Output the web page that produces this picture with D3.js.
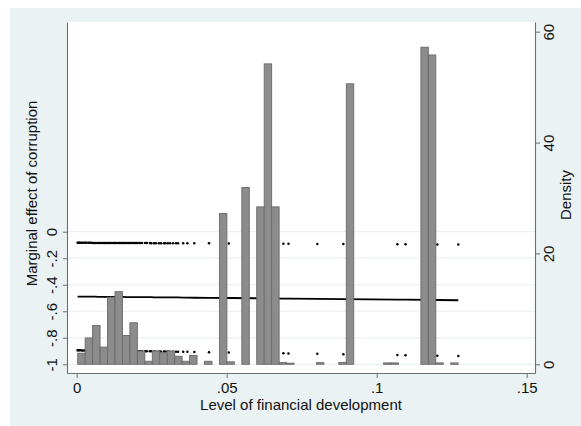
<!DOCTYPE html>
<html><head><meta charset="utf-8">
<script src="https://cdn.jsdelivr.net/npm/d3@7"></script>
<style>
html,body{margin:0;padding:0;background:#fff;}
svg{display:block;font-family:"Liberation Sans",Arial,sans-serif;}
</style></head>
<body>
<svg id="c" width="581" height="426"></svg>
<script>
// ---- data ----
const finDev = [.0003,.0006,.0009,.0013,.0018,.0023,.0028,.0031,.0038,.0043,.0048,.0054,.0059,.0064,.0071,.0076,.0081,.0088,.0093,.0098,
  .0104,.0109,.0114,.0121,.0126,.0131,.0138,.0143,.0148,.0154,.0159,.0164,.0171,.0176,.0181,.0188,.0193,.0198,.0204,.0211,
  .0218,.0228,.0234,.0244,.0249,.0258,.0264,.0274,.0281,.0291,.0296,.0304,.0311,.0321,.0331,.0338,.0355,.0369,.0392,.0441,
  .0507,.0689,.0706,.0802,.0889,.1069,.1096,.1202,.1272];
const meCorr = [-.489,-.489,-.489,-.489,-.489,-.490,-.490,-.490,-.490,-.490,-.490,-.490,-.490,-.490,-.491,-.491,-.491,-.491,-.491,-.491,
  -.491,-.491,-.492,-.492,-.492,-.492,-.492,-.492,-.492,-.492,-.492,-.493,-.493,-.493,-.493,-.493,-.493,-.493,-.493,-.494,
  -.494,-.494,-.494,-.494,-.494,-.495,-.495,-.495,-.495,-.495,-.496,-.496,-.496,-.496,-.496,-.496,-.497,-.497,-.498,-.499,
  -.500,-.504,-.505,-.507,-.509,-.513,-.513,-.515,-.517];
const ciHigh = [-.084,-.084,-.084,-.084,-.084,-.084,-.084,-.084,-.084,-.084,-.084,-.085,-.085,-.085,-.085,-.085,-.085,-.085,-.085,-.085,
  -.085,-.085,-.085,-.085,-.085,-.085,-.085,-.085,-.086,-.086,-.086,-.086,-.086,-.086,-.086,-.086,-.086,-.086,-.086,-.086,
  -.086,-.086,-.086,-.086,-.087,-.087,-.087,-.087,-.087,-.087,-.087,-.087,-.087,-.087,-.087,-.087,-.088,-.088,-.088,-.088,
  -.089,-.091,-.091,-.092,-.093,-.095,-.095,-.096,-.097];
const ciLow = [-.894,-.894,-.894,-.894,-.895,-.895,-.895,-.895,-.895,-.895,-.896,-.896,-.896,-.896,-.896,-.897,-.897,-.897,-.897,-.897,
  -.898,-.898,-.898,-.898,-.898,-.898,-.899,-.899,-.899,-.899,-.899,-.900,-.900,-.900,-.900,-.900,-.901,-.901,-.901,-.901,
  -.901,-.902,-.902,-.902,-.902,-.903,-.903,-.903,-.904,-.904,-.904,-.904,-.905,-.905,-.905,-.905,-.906,-.906,-.907,-.909,
  -.911,-.917,-.918,-.921,-.924,-.930,-.931,-.935,-.937];
// histogram of financial development (density)
const binStart = 0.00033;
const binWidth = 0.002487;
const density = [2.0,4.75,7.0,3.1,12.1,13.1,5.2,7.5,2.4,0.55,
  2.4,2.1,2.4,1.45,0.55,1.6,0,0.55,0,27.2,
  0.45,0,31.9,0,28.4,54.2,28.4,0.3,0.2,0,
  0,0,0.3,0,0,0.35,50.6,0,0,0,
  0,0.25,0.25,0,0,0,57.2,55.8,0.25,0,0.25];
const xTicks = [0,.05,.1,.15], xTickLabels = ["0",".05",".1",".15"];
const yTicks = [0,-.2,-.4,-.6,-.8,-1], yTickLabels = ["0","-.2","-.4","-.6","-.8","-1"];
const dTicks = [0,20,40,60], dTickLabels = ["0","20","40","60"];
const xTitle = "Level of financial development";
const yTitle = "Marginal effect of corruption";
const dTitle = "Density";

// ---- layout ----
const svg = d3.select("#c");
const L = 67, R = 535, T = 22, B = 373;
const x = d3.scaleLinear().domain([-0.00323, 0.15277]).range([L, R]);
const yL = d3.scaleLinear().domain([-1.0656, 1.5814]).range([B, T]);
const yR = d3.scaleLinear().domain([-1.57, 61.75]).range([B, T]);

const bg = "#EAF2F3";
svg.append("rect").attr("x",10).attr("y",8).attr("width",571).attr("height",418).attr("fill",bg);
svg.append("rect").attr("x",L).attr("y",T).attr("width",R-L).attr("height",B-T).attr("fill","#fff");

// gridlines
svg.append("g").selectAll("line").data(yTicks).join("line")
  .attr("x1",L).attr("x2",R).attr("y1",d=>yL(d)).attr("y2",d=>yL(d))
  .attr("stroke",bg).attr("stroke-width",1.2);

const pts = finDev.map((v,i)=>({x:v, me:meCorr[i], lo:ciLow[i], hi:ciHigh[i]}));

// CI dots
const dots = svg.append("g").attr("fill","#000");
dots.selectAll("circle.hi").data(pts).join("circle").attr("class","hi")
  .attr("cx",d=>x(d.x)).attr("cy",d=>yL(d.hi)).attr("r",1.25);
dots.selectAll("circle.lo").data(pts).join("circle").attr("class","lo")
  .attr("cx",d=>x(d.x)).attr("cy",d=>yL(d.lo)).attr("r",1.25);

// marginal effect line
svg.append("path").datum(pts)
  .attr("d", d3.line().x(d=>x(d.x)).y(d=>yL(d.me)))
  .attr("fill","none").attr("stroke","#000").attr("stroke-width",1.8);

// histogram bars
const bins = density.map((v,i)=>({x0:binStart+i*binWidth, x1:binStart+(i+1)*binWidth, d:v})).filter(b=>b.d>0);
svg.append("g").selectAll("rect").data(bins).join("rect")
  .attr("x",b=>x(b.x0)).attr("width",b=>x(b.x1)-x(b.x0))
  .attr("y",b=>yR(b.d)).attr("height",b=>yR(0)-yR(b.d))
  .attr("fill","#8C8C8C").attr("stroke","#6A6A6A").attr("stroke-width",0.9);

// axes
const axCol = "#6E6E6E";
function style(g){
  g.select(".domain").attr("stroke",axCol).attr("stroke-width",1.1);
  g.selectAll(".tick line").attr("stroke",axCol).attr("stroke-width",1);
  g.selectAll(".tick text").attr("fill","#111").style("font-size","15px")
    .style("font-family",'"Liberation Sans",Arial,sans-serif');
}
const gx = svg.append("g").attr("transform",`translate(0,${B})`)
  .call(d3.axisBottom(x).tickValues(xTicks).tickFormat((d,i)=>xTickLabels[i]).tickSize(5).tickSizeOuter(0));
style(gx);
gx.selectAll(".tick text").attr("y",20.3).attr("dy",0);

const gl = svg.append("g").attr("transform",`translate(${L},0)`)
  .call(d3.axisLeft(yL).tickValues(yTicks).tickFormat((d,i)=>yTickLabels[i]).tickSize(4).tickSizeOuter(0));
style(gl);
gl.selectAll(".tick text").attr("x",0).attr("dy",0).attr("text-anchor","middle")
  .attr("transform","translate(-10.5,0) rotate(-90)");

const gr = svg.append("g").attr("transform",`translate(${R},0)`)
  .call(d3.axisRight(yR).tickValues(dTicks).tickFormat((d,i)=>dTickLabels[i]).tickSize(5).tickSizeOuter(0));
style(gr);
gr.selectAll(".tick text").attr("x",0).attr("dy",0).attr("text-anchor","middle")
  .attr("transform","translate(19,0) rotate(-90)");

// titles
svg.append("text").attr("x",(L+R)/2).attr("y",409.5).attr("text-anchor","middle")
  .style("font-size","15px").attr("fill","#111").text(xTitle);
svg.append("text").attr("transform",`translate(37,${(T+B)/2-4}) rotate(-90)`).attr("text-anchor","middle")
  .style("font-size","15px").attr("fill","#111").text(yTitle);
svg.append("text").attr("transform",`translate(571,195) rotate(-90)`).attr("text-anchor","middle")
  .style("font-size","15px").attr("fill","#111").text(dTitle);
</script>
</body></html>
